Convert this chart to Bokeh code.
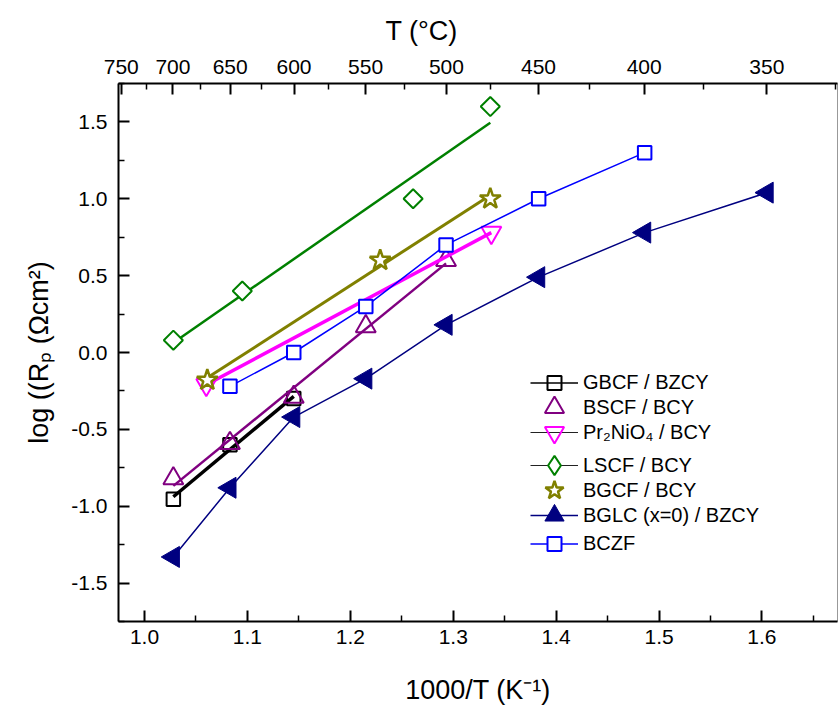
import numpy as np
from bokeh.plotting import figure
from bokeh.models import (Range1d, LinearAxis, FixedTicker, CustomJSTickFormatter,
                          PrintfTickFormatter, Legend, LegendItem)
from bokeh.embed import file_html
from bokeh.resources import INLINE

# ---------------- data (1000/T in K^-1, log Rp) ----------------
x_gbcf = [1.028, 1.083, 1.145]
y_gbcf = [-0.955, -0.60, -0.30]

x_bscf = [1.028, 1.083, 1.145, 1.215, 1.293]
y_bscf = [-0.82, -0.59, -0.29, 0.17, 0.60]

x_pr = [1.060, 1.337]
y_pr = [-0.21, 0.78]

x_lscf = [1.028, 1.095, 1.261, 1.336]
y_lscf = [0.08, 0.40, 1.00, 1.60]

x_bgcf = [1.061, 1.229, 1.336]
y_bgcf = [-0.18, 0.60, 1.00]

x_bglc = [1.028, 1.083, 1.145, 1.215, 1.293, 1.383, 1.486, 1.605]
y_bglc = [-1.33, -0.88, -0.42, -0.17, 0.18, 0.49, 0.78, 1.04]

x_bczf = [1.083, 1.145, 1.215, 1.293, 1.383, 1.486]
y_bczf = [-0.22, 0.00, 0.30, 0.70, 1.00, 1.30]

labels = ["GBCF / BZCY", "BSCF / BCY", "Pr\u2082NiO\u2084 / BCY", "LSCF / BCY",
          "BGCF / BCY", "BGLC (x=0) / BZCY", "BCZF"]

x_ticks = [1.0, 1.1, 1.2, 1.3, 1.4, 1.5, 1.6]
x_minor = [0.95, 1.05, 1.15, 1.25, 1.35, 1.45, 1.55, 1.65]
y_ticks = [-1.5, -1.0, -0.5, 0.0, 0.5, 1.0, 1.5]
y_minor = [-1.75, -1.25, -0.75, -0.25, 0.25, 0.75, 1.25, 1.75]
top_temps_c = [750, 700, 650, 600, 550, 500, 450, 400, 350]
top_minor_c = [775, 725, 675, 625, 575, 525, 475, 425, 375, 325]

FONT = "Liberation Sans"
NAN = [np.nan]


def fit(xs, ys):
    k, b = np.polyfit(xs, ys, 1)
    xe = np.array([min(xs), max(xs)])
    return xe, k * xe + b


p = figure(width=838, height=708, x_range=Range1d(0.9747, 1.6734), y_range=Range1d(-1.75, 1.75),
           output_backend="svg", toolbar_location=None,
           min_border_left=118, min_border_right=1, min_border_top=83, min_border_bottom=87)
p.grid.visible = False
p.outline_line_color = "#999999"
p.outline_line_width = 1

# ---------------- series ----------------
fx, fy = fit(x_gbcf, y_gbcf)
p.line(fx, fy, line_color="black", line_width=3.5)
r_gbcf = p.scatter(x_gbcf, y_gbcf, marker="square", size=13.5, line_color="black",
                   line_width=2, fill_color=None)

fx, fy = fit(x_bscf, y_bscf)
p.line(fx, fy, line_color="#800080", line_width=2.5)
r_bscf = p.scatter(x_bscf, y_bscf, marker="triangle", size=20, line_color="#800080",
                   line_width=2, fill_color=None)

p.line(x_pr, y_pr, line_color="#FF00FF", line_width=3.5)
r_pr = p.scatter(x_pr, y_pr, marker="inverted_triangle", size=20, line_color="#FF00FF",
                 line_width=2, fill_color=None)

fx, fy = fit(x_lscf, y_lscf)
p.line(fx, fy, line_color="#008000", line_width=2.5)
r_lscf = p.scatter(x_lscf, y_lscf, marker="square", angle=np.pi / 4, size=13.5,
                   line_color="#008000", line_width=2, fill_color="white")

fx, fy = fit(x_bgcf, y_bgcf)
p.line(fx, fy, line_color="#808000", line_width=3)
r_bgcf = p.scatter(x_bgcf, y_bgcf, marker="star", size=22, line_color="#808000",
                   line_width=2.5, fill_color="white")

l_bglc = p.line(x_bglc, y_bglc, line_color="#000080", line_width=1.5)
r_bglc = p.scatter(x_bglc, y_bglc, marker="triangle", angle=np.pi / 2, size=21,
                   line_color="#000080", fill_color="#000080")

l_bczf = p.line(x_bczf, y_bczf, line_color="#0000FF", line_width=1.5)
r_bczf = p.scatter(x_bczf, y_bczf, marker="square", size=13.5, line_color="#0000FF",
                   line_width=2, fill_color="white")

# legend-only sample glyphs (NaN data, nothing drawn on the plot)
lg_black = p.line(NAN, NAN, line_color="black", line_width=1.5)
lg_thin = p.line(NAN, NAN, line_color="#222222", line_width=1)
lg_diam = p.scatter(NAN, NAN, marker="diamond", line_color="#008000", line_width=2,
                    fill_color="white")
lg_bglc = p.scatter(NAN, NAN, marker="triangle", line_color="#000080", fill_color="#000080")

# ---------------- axes ----------------
def style_axis(ax):
    ax.axis_line_width = 2
    ax.axis_line_color = "black"
    ax.major_tick_line_width = 2
    ax.minor_tick_line_width = 1.5
    ax.major_tick_in = 11
    ax.major_tick_out = 0
    ax.minor_tick_in = 6
    ax.minor_tick_out = 0
    ax.major_label_text_font = FONT
    ax.major_label_text_font_size = "21px"
    ax.major_label_text_color = "black"
    ax.axis_label_text_font = FONT
    ax.axis_label_text_font_size = "27px"
    ax.axis_label_text_font_style = "normal"
    ax.axis_label_text_color = "black"


xa = p.xaxis[0]
xa.ticker = FixedTicker(ticks=x_ticks, minor_ticks=x_minor)
xa.formatter = PrintfTickFormatter(format="%.1f")
xa.axis_label = "1000/T (K\u207b\u00b9)"
style_axis(xa)
xa.major_label_standoff = 8
xa.axis_label_standoff = 28

ya = p.yaxis[0]
ya.ticker = FixedTicker(ticks=y_ticks, minor_ticks=y_minor)
ya.formatter = PrintfTickFormatter(format="%.1f")
ya.axis_label = "log ((R\u209a (\u03a9cm\u00b2)"
style_axis(ya)
ya.major_label_standoff = 11
ya.axis_label_standoff = 14

top_ticks = [1000.0 / (t + 273.15) for t in top_temps_c]
top_minor = [1000.0 / (t + 273.15) for t in top_minor_c]
ta = LinearAxis(ticker=FixedTicker(ticks=top_ticks, minor_ticks=top_minor),
                formatter=CustomJSTickFormatter(code="return Math.round(1000/tick - 273.15).toString();"))
style_axis(ta)
ta.major_label_standoff = 10
p.add_layout(ta, "above")

# top axis title (off-centre as in the original) via the plot title
p.title.text = "T (\u00b0C)"
p.title.align = "left"
p.title.offset = 267
p.title.text_font = FONT
p.title.text_font_size = "27px"
p.title.text_font_style = "normal"
p.title.text_color = "black"
p.title.standoff = 18
p.title.vertical_align = "top"

# ---------------- legend (one row per Legend) ----------------
rows = [
    (labels[0], [lg_black, r_gbcf], 382, 14),
    (labels[1], [r_bscf], 407, 20),
    (labels[2], [lg_thin, r_pr], 432, 20),
    (labels[3], [lg_thin, lg_diam], 465, 20),
    (labels[4], [r_bgcf], 490, 20),
    (labels[5], [l_bglc, lg_bglc], 515, 19),
    (labels[6], [l_bczf, r_bczf], 543, 14),
]
frame_bottom = 621
for text, rends, yc, msize in rows:
    gh = int(round(msize / 0.4))
    leg = Legend(items=[LegendItem(label=text, renderers=rends)],
                 location=(412, frame_bottom - yc - gh / 2),
                 glyph_width=48, glyph_height=gh, label_height=gh,
                 label_standoff=5, padding=0, margin=0, spacing=0,
                 border_line_color=None, background_fill_alpha=0,
                 label_text_font=FONT, label_text_font_size="20px",
                 label_text_color="black", label_text_baseline="middle")
    p.add_layout(leg)

open("out.html", "w").write(file_html(p, INLINE))
